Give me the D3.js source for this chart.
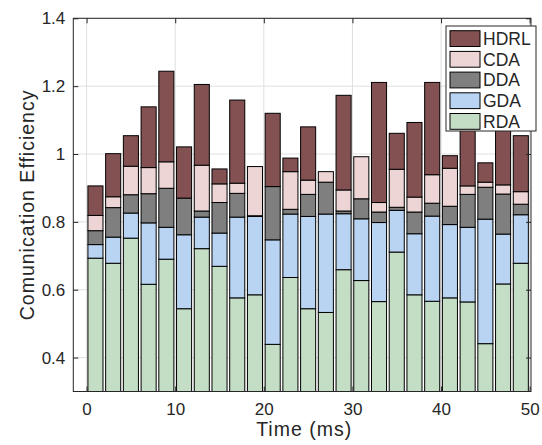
<!DOCTYPE html>
<html><head><meta charset="utf-8">
<script src="https://cdn.jsdelivr.net/npm/d3@7"></script>
<style>
body{margin:0;background:#fff}
svg{display:block}
text{font-family:"Liberation Sans",Arial,Helvetica,sans-serif;fill:#262626}
</style>
</head><body>
<svg id="chart" width="542" height="445"></svg>
<script>
// ---- data ----
const times = [1,3,5,7,9,11,13,15,17,19,21,23,25,27,29,31,33,35,37,39,41,43,45,47,49];
const seriesNames = ["RDA","GDA","DDA","CDA","HDRL"];
const RDA  = [0.693,0.678,0.752,0.616,0.690,0.544,0.721,0.669,0.576,0.585,0.439,0.636,0.544,0.533,0.659,0.627,0.565,0.711,0.585,0.566,0.576,0.564,0.441,0.617,0.678];
const GDA  = [0.040,0.077,0.074,0.181,0.094,0.218,0.093,0.098,0.238,0.231,0.308,0.187,0.272,0.290,0.165,0.182,0.233,0.123,0.180,0.251,0.216,0.220,0.367,0.147,0.143];
const DDA  = [0.041,0.087,0.054,0.086,0.115,0.108,0.018,0.090,0.070,0.002,0.157,0.014,0.065,0.094,0.008,0.059,0.031,0.009,0.064,0.038,0.054,0.097,0.094,0.118,0.031];
const CDA  = [0.045,0.032,0.084,0.077,0.078,0.000,0.135,0.055,0.030,0.145,0.000,0.111,0.042,0.031,0.062,0.124,0.028,0.112,0.044,0.084,0.112,0.025,0.015,0.027,0.037];
const HDRL = [0.087,0.127,0.090,0.179,0.267,0.151,0.238,0.044,0.245,0.000,0.216,0.040,0.157,0.000,0.279,0.000,0.354,0.106,0.220,0.272,0.037,0.240,0.057,0.280,0.165];
const xTicks = [0,10,20,30,40,50];
const yTicks = [0.4,0.6,0.8,1.0,1.2,1.4];
const legendOrder = ["HDRL","CDA","DDA","GDA","RDA"];
const colors = {RDA:"#c4ddc5", GDA:"#b9d4f3", DDA:"#7f7f7f", CDA:"#edd5d5", HDRL:"#845152"};

// ---- layout ----
const L = 73.3, R = 531, T = 18.3, B = 391.5;
const svg = d3.select("#chart");
const x = d3.scaleLinear().domain([-1.5, 50.15]).range([L, R]);
const y = d3.scaleLinear().domain([0.3, 1.4]).range([B, T]);
const barW = x(1.7) - x(0);

const table = times.map((t,i)=>({t, RDA:RDA[i], GDA:GDA[i], DDA:DDA[i], CDA:CDA[i], HDRL:HDRL[i]}));
const stacked = d3.stack().keys(seriesNames)(table);

// grid
const grid = svg.append("g");
grid.selectAll("line.gx").data(xTicks).join("line")
  .attr("x1", d=>x(d)).attr("x2", d=>x(d)).attr("y1", T).attr("y2", B)
  .attr("stroke", "#dfdfdf").attr("stroke-width", 1);
grid.selectAll("line.gy").data(yTicks).join("line")
  .attr("x1", L).attr("x2", R).attr("y1", d=>y(d)).attr("y2", d=>y(d))
  .attr("stroke", "#dfdfdf").attr("stroke-width", 1);

// clip
svg.append("clipPath").attr("id","clip").append("rect")
  .attr("x", L).attr("y", T).attr("width", R-L).attr("height", B-T);

const bars = svg.append("g").attr("clip-path","url(#clip)");
stacked.forEach(s=>{
  bars.append("g").selectAll("rect").data(s).join("rect")
    .attr("x", d=>x(d.data.t) - barW/2)
    .attr("width", barW)
    .attr("y", d=>y(d[1]))
    .attr("height", d=>Math.max(0, y(d[0]) - y(d[1])))
    .attr("fill", colors[s.key])
    .attr("stroke", "#000")
    .attr("stroke-width", 1);
});

// axes box
const ax = svg.append("g");
const yAxisL = d3.axisLeft(y).tickValues(yTicks).tickSizeInner(-5).tickSizeOuter(0).tickPadding(8)
  .tickFormat(d=>String(+d.toFixed(1)));
const xAxisB = d3.axisBottom(x).tickValues(xTicks).tickSizeInner(-5).tickSizeOuter(0).tickPadding(11);
const gY = ax.append("g").attr("transform",`translate(${L},0)`).call(yAxisL);
const gX = ax.append("g").attr("transform",`translate(0,${B})`).call(xAxisB);
const gYR = ax.append("g").attr("transform",`translate(${R},0)`).call(d3.axisRight(y).tickValues(yTicks).tickSizeInner(-5).tickSizeOuter(0).tickFormat(""));
const gXT = ax.append("g").attr("transform",`translate(0,${T})`).call(d3.axisTop(x).tickValues(xTicks).tickSizeInner(-5).tickSizeOuter(0).tickFormat(""));
[gY,gX,gYR,gXT].forEach(g=>{
  g.select(".domain").remove();
  g.selectAll(".tick line").attr("stroke","#262626");
  g.selectAll("text").style("font-size","17px").attr("fill","#262626");
});
ax.append("rect").attr("x",L).attr("y",T).attr("width",R-L).attr("height",B-T)
  .attr("fill","none").attr("stroke","#262626").attr("stroke-width",1);

// axis labels
svg.append("text").attr("x",(L+R)/2 + 2).attr("y",436).attr("text-anchor","middle")
  .style("font-size","19.5px").style("letter-spacing","1px").text("Time (ms)");
svg.append("text").attr("transform",`translate(34,${(T+B)/2}) rotate(-90)`).attr("text-anchor","middle")
  .style("font-size","19.5px").style("letter-spacing","1px").text("Comunication Efficiency");

// legend
const lg = svg.append("g");
lg.append("rect").attr("x",446).attr("y",26).attr("width",90).attr("height",105)
  .attr("fill","#fff").attr("stroke","#262626").attr("stroke-width",1);
const row = lg.selectAll("g.row").data(legendOrder).join("g")
  .attr("transform",(d,i)=>`translate(450,${30.7 + i*20.7})`);
row.append("rect").attr("width",30).attr("height",15.8).attr("fill",d=>colors[d])
  .attr("stroke","#000").attr("stroke-width",1);
row.append("text").attr("x",33).attr("y",8).attr("dy","0.36em")
  .style("font-size","17.5px").attr("fill","#000").text(d=>d);
</script>
</body></html>
